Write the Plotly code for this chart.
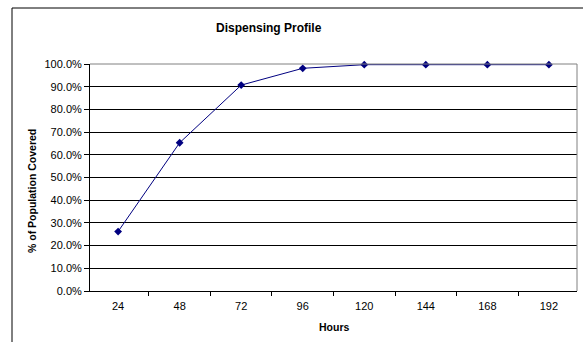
import plotly.graph_objects as go

hours = ["24", "48", "72", "96", "120", "144", "168", "192"]
coverage = [0.262, 0.653, 0.907, 0.981, 0.997, 0.997, 0.997, 0.997]

W, H = 583, 342
L, R, T, B = 90, 577, 64, 291
pw, ph = R - L, B - T

def px(x):
    return (x - L) / pw

def py(y):
    return (B - y) / ph

FONT = "Liberation Sans, Arial, sans-serif"

fig = go.Figure()
fig.add_trace(go.Scatter(
    x=hours, y=coverage, mode="lines+markers",
    line=dict(color="#000080", width=1),
    marker=dict(symbol="diamond", size=6, color="#000080"),
    showlegend=False, cliponaxis=False,
))

fig.update_layout(
    width=W, height=H,
    margin=dict(l=L, r=W - R, t=T, b=H - B),
    paper_bgcolor="white", plot_bgcolor="white",
    font=dict(family=FONT, size=10.5, color="black"),
    xaxis=dict(
        type="category", tickson="boundaries", ticks="outside", ticklen=4,
        tickcolor="black", showline=True, linecolor="black", linewidth=1,
        showgrid=False, zeroline=False, tickfont=dict(size=11),
        ticklabelstandoff=5,
    ),
    yaxis=dict(
        range=[0, 1], dtick=0.1, tick0=0, tickformat=".1%", ticks="outside",
        ticklen=5, tickcolor="black", showline=True, linecolor="black",
        linewidth=1, showgrid=True, gridcolor="black", gridwidth=1,
        zeroline=False, tickfont=dict(size=11),
    ),
    shapes=[
        # outer chart border (clipped at right/bottom)
        dict(type="rect", xref="paper", yref="paper",
             x0=px(12), x1=px(600), y0=py(8), y1=py(360),
             line=dict(color="black", width=1)),
        # plot area top and right border
        dict(type="line", xref="paper", yref="paper",
             x0=0, x1=1, y0=1, y1=1, line=dict(color="#808080", width=1)),
        dict(type="line", xref="paper", yref="paper",
             x0=1, x1=1, y0=0, y1=1, line=dict(color="#808080", width=1)),
    ],
    annotations=[
        dict(text="<b>Dispensing Profile</b>", xref="paper", yref="paper",
             x=px(269), y=py(28), showarrow=False, font=dict(size=12),
             xanchor="center", yanchor="middle"),
        dict(text="<b>% of Population Covered</b>", xref="paper", yref="paper",
             x=px(32), y=py(191), showarrow=False, textangle=-90,
             font=dict(size=10.5), xanchor="center", yanchor="middle"),
        dict(text="<b>Hours</b>", xref="paper", yref="paper",
             x=px(334), y=py(327), showarrow=False, font=dict(size=10.5),
             xanchor="center", yanchor="middle"),
    ],
)

fig.write_html("out.html")
